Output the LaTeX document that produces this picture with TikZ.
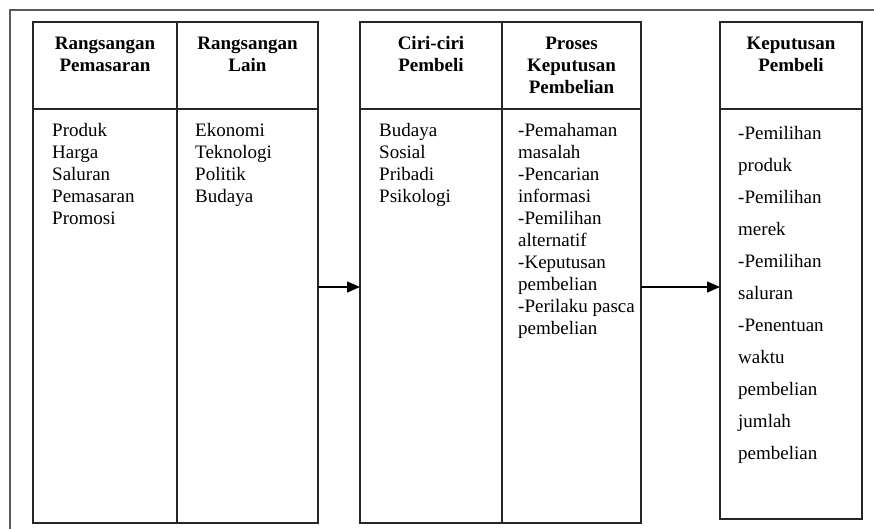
\documentclass[tikz,border=0pt]{standalone}
\usepackage{fontspec}
\setmainfont{Liberation Serif}
\usetikzlibrary{positioning, arrows.meta}
\tikzstyle{headCell} = [rectangle, draw=black!85, line width=1.4pt, minimum height=87pt, inner sep=0pt, outer sep=0pt]
\tikzstyle{bodyCell} = [rectangle, draw=black!85, line width=1.4pt, minimum height=414pt, inner sep=0pt, outer sep=0pt]
\tikzstyle{headText} = [inner sep=0pt, align=center, font=\fontsize{19}{22}\selectfont\bfseries]
\tikzstyle{listText} = [inner sep=0pt, align=left, font=\fontsize{19}{22}\selectfont]
\tikzstyle{wideText} = [inner sep=0pt, align=left, font=\fontsize{19}{32}\selectfont]
\tikzstyle{arrow} = [line width=1.4pt, -{Triangle[length=13pt,width=11pt]}]

\begin{document}
\begin{tikzpicture}[x=1pt, y=-1pt]
    \useasboundingbox (0,0) rectangle (874,529);
    % outer frame
    \draw[gray!70!black, line width=1.5pt] (874,10) -| (10,529);
    % Rangsangan
    \node (pemasaranHead) [headCell, minimum width=144pt, anchor=north west] at (33,22) {};
    \node (lainHead) [headCell, minimum width=141pt, right=0pt of pemasaranHead] {};
    \node (pemasaranBody) [bodyCell, minimum width=144pt, below=0pt of pemasaranHead] {};
    \node (lainBody) [bodyCell, minimum width=141pt, below=0pt of lainHead] {};
    % Ciri-ciri, Proses
    \node (ciriHead) [headCell, minimum width=142pt, right=42pt of lainHead] {};
    \node (prosesHead) [headCell, minimum width=139pt, right=0pt of ciriHead] {};
    \node (ciriBody) [bodyCell, minimum width=142pt, below=0pt of ciriHead] {};
    \node (prosesBody) [bodyCell, minimum width=139pt, below=0pt of prosesHead] {};
    % Keputusan
    \node (keputusanHead) [headCell, minimum width=142pt, right=79pt of prosesHead] {};
    \node (keputusanBody) [bodyCell, minimum width=142pt, minimum height=410pt, below=0pt of keputusanHead] {};

    % titles
    \node (pemasaranTitle) [headText, below=11.5pt of pemasaranHead.north] {\strut Rangsangan\\Pemasaran};
    \node (lainTitle) [headText, below=11.5pt of lainHead.north] {\strut Rangsangan\\Lain};
    \node (ciriTitle) [headText, below=11.5pt of ciriHead.north] {\strut Ciri-ciri\\Pembeli};
    \node (prosesTitle) [headText, below=11.5pt of prosesHead.north] {\strut Proses\\Keputusan\\Pembelian};
    \node (keputusanTitle) [headText, below=11.5pt of keputusanHead.north] {\strut Keputusan\\Pembeli};
    % lists
    \node (pemasaranList) [listText, below right=11.5pt and 19pt of pemasaranBody.north west] {\strut Produk\\Harga\\Saluran\\Pemasaran\\Promosi};
    \node (lainList) [listText, below right=11.5pt and 18pt of lainBody.north west] {\strut Ekonomi\\Teknologi\\Politik\\Budaya};
    \node (ciriList) [listText, below right=11.5pt and 19pt of ciriBody.north west] {\strut Budaya\\Sosial\\Pribadi\\Psikologi};
    \node (prosesList) [listText, below right=11.5pt and 16pt of prosesBody.north west] {\strut -Pemahaman\\masalah\\-Pencarian\\informasi\\-Pemilihan\\alternatif\\-Keputusan\\pembelian\\-Perilaku pasca\\pembelian};
    \node (keputusanList) [wideText, below right=7.5pt and 18pt of keputusanBody.north west] {\strut -Pemilihan\\produk\\-Pemilihan\\merek\\-Pemilihan\\saluran\\-Penentuan\\waktu\\pembelian\\jumlah\\pembelian};

    \draw [arrow] ([yshift=29pt]lainBody.east) -- ([yshift=29pt]ciriBody.west);
    \draw [arrow] ([yshift=29pt]prosesBody.east) -- ([yshift=29pt]prosesBody.east -| keputusanBody.west);
\end{tikzpicture}
\end{document}
